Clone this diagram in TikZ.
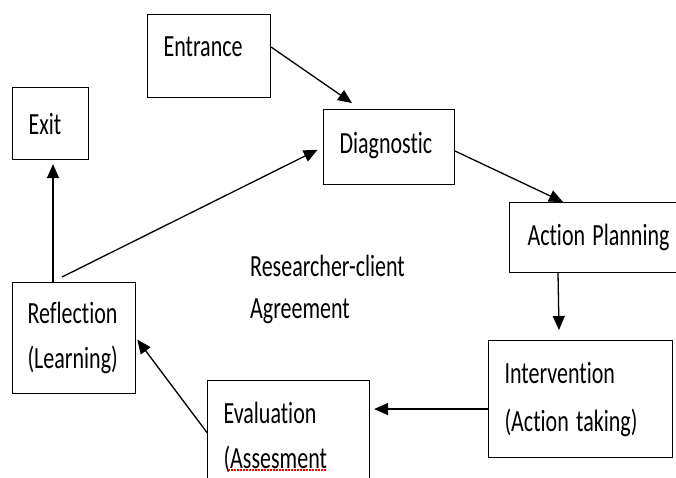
\documentclass[tikz,border=0pt]{standalone}
\usepackage{fontspec}
\setmainfont{Carlito}[Ligatures=NoCommon]
\usepackage{graphicx}
\usepackage{tikz}
\usetikzlibrary{arrows.meta, positioning, calc}

\newcommand{\tallt}[1]{\scalebox{1}[1.4]{#1}}

\begin{document}
\begin{tikzpicture}[x=1pt, y=-1pt,
  box/.style={draw, line width=1.1pt, anchor=north west, align=left, inner xsep=16pt, inner ysep=0pt, font=\fontsize{22}{45}\selectfont},
  arr/.style={-{Triangle[length=14pt, width=12pt]}, line width=1.3pt}]
  \path[use as bounding box, clip] (0,0) rectangle (676,478);

  % Boxes
  \node[box, text width=91pt, minimum height=83pt, text depth=18pt] (entr) at (147, 14) {\tallt{Entrance}};
  \node[box, text width=44pt, minimum height=72pt] (exitb) at (12, 87) {\tallt{Exit}};
  \node[box, text width=99pt, minimum height=75pt, text depth=8pt] (diag) at (323, 109) {\tallt{Diagnostic}};
  \node[box, text width=149pt, minimum height=70pt, inner xsep=18pt] (plan) at (509, 202) {\tallt{Action Planning}};
  \node[box, text width=152pt, minimum height=117pt, font=\fontsize{22}{48}\selectfont] (interv) at (488, 340) {\tallt{Intervention}\\\tallt{(Action taking)}};
  \node[box, text width=130pt, minimum height=114pt] (evalu) at (207, 380) {\tallt{Evaluation}\\\tallt{(Assesment}};
  \node[box, text width=93pt, minimum height=111pt, inner xsep=15pt] (refl) at (12, 282) {\tallt{Reflection}\\\tallt{(Learning)}};

  % Centre text
  \node[anchor=west, align=left, inner sep=0pt, font=\fontsize{22}{42}\selectfont] (agree) at (250, 289) {\tallt{Researcher-client}\\\tallt{Agreement}};

  % spell-check mark
  \draw[red, dash pattern=on 1.5pt off 1.5pt, line width=1.3pt] ($(evalu.north west)+(21,90)$) -- ($(evalu.north west)+(120,90)$);

  % Arrows
  \draw[arr] ([yshift=9pt]entr.east) -- ([xshift=29pt, yshift=6pt]diag.north west);
  \draw[arr] ([yshift=-4pt]diag.east) -- ([xshift=54pt]plan.north west);
  \draw[arr] ([xshift=49pt]plan.south west) -- ([xshift=50pt, yshift=10pt]plan.south west |- interv.north);
  \draw[arr, shorten >=4pt] ([yshift=-10pt]interv.west) coordinate (a) -- (a -| evalu.east);
  \draw[arr, shorten >=2pt] ([yshift=5pt]evalu.west) -- (refl.east);
  \draw[arr, shorten >=4pt] ([xshift=41pt]refl.north west) coordinate (b) -- (b |- exitb.south);
  \draw[arr, shorten >=6pt] ([xshift=50pt, yshift=5pt]refl.north west) -- (diag.west);
\end{tikzpicture}
\end{document}
